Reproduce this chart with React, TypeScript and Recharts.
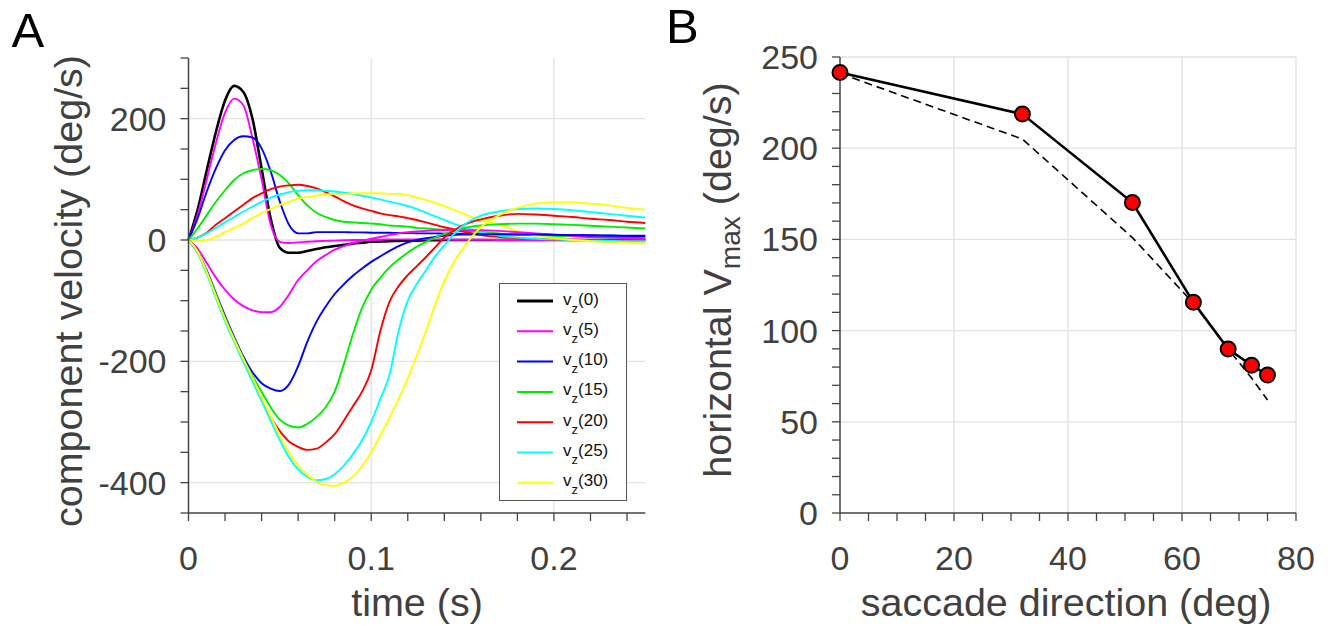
import {
  LineChart,
  Line,
  XAxis,
  YAxis,
  CartesianGrid,
  Legend,
  Label,
} from "recharts";

// ---- panel A: component velocity vs time ----
const time = [
  0, 0.005, 0.01, 0.015, 0.02, 0.025, 0.03, 0.035, 0.04, 0.045, 0.05, 0.055,
  0.06, 0.065, 0.07, 0.075, 0.08, 0.085, 0.09, 0.095, 0.1, 0.105, 0.11, 0.115,
  0.12, 0.125, 0.13, 0.135, 0.14, 0.145, 0.15, 0.155, 0.16, 0.17, 0.18, 0.19,
  0.2, 0.21, 0.22, 0.23, 0.24, 0.25,
];

// horizontal components
const h0 = [
  0, 50, 115, 178, 230, 254, 244, 200, 118, 35, -13, -21, -21, -18, -15, -12,
  -10, -8, -6, -4.5, -3, -2.5, -2, -1.5, -1, -1, -0.5, -0.5, 0, 0, 0, 0, 0, 0,
  0, 0, 0, 0, 0, 0, 0, 0,
];
const h5 = [
  0, 42, 100, 160, 210, 233, 222, 168, 100, 25, -3, -5, -4, -3, -2, -1.5, -1,
  -0.5, 0, 0, 0.5, 0.5, 1, 1, 1, 1, 1, 1, 1, 0.5, 0.5, 0.5, 0.5, 0, 0, 0, 0, 0,
  0, 0, 0, 0,
];
const h10 = [
  0, 36, 80, 118, 148, 165, 171, 169, 151, 113, 63, 25, 11, 11, 13, 13, 13, 13,
  12.5, 12.5, 12, 12, 12, 11.5, 11.5, 11, 11, 11, 10.5, 10.5, 10, 10, 10, 9.5,
  9, 9, 8.5, 8, 8, 7.5, 7, 7,
];
const h15 = [
  0, 19, 41, 63, 82, 99, 110, 115, 117, 115, 107, 93, 74, 57, 45, 38, 33, 30,
  29, 28, 27, 26, 24, 23, 22, 20, 19, 18, 17, 16, 15, 14, 13, 11, 9, 8, 7, 6, 5,
  4, 3.5, 3,
];
const h20 = [
  0, 4, 12, 25, 36, 47, 58, 69, 77, 84, 88, 90, 91, 89, 85, 79, 72, 64, 57, 52,
  48, 44, 41, 39, 36, 33, 29, 25, 21, 18, 14, 11, 8, 5, 3, 2, 1, 0.5, 0, 0, 0,
  0,
];
const h25 = [
  0, 4, 11, 20, 29, 38, 47, 55, 63, 70, 75, 79, 81, 82, 82, 81, 80, 78, 76, 73,
  70, 67, 63, 60, 56, 51, 45, 39, 33, 27, 22, 17, 13, 7, 4, 2, 1, 0, -1, -1.5,
  -2, -2,
];
const h30 = [
  0, -1, 0, 5, 13, 20, 27, 36, 44, 51, 58, 63, 68, 71, 73, 75, 76, 76, 77, 77,
  77, 77, 76, 76, 74, 70, 66, 61, 56, 50, 44, 38, 33, 25, 15, 7, 3, 0, -2, -3.5,
  -4.5, -5.5,
];

// vertical components
const v5 = [
  0, -14, -38, -62, -82, -98, -109, -116, -119, -119, -110, -90, -66, -50, -35,
  -25, -16, -10, -5, -1, 2, 5, 8, 11, 13, 14, 15, 16, 16, 16.5, 16.5, 16, 16,
  15, 13, 11, 9, 7, 5, 4, 3, 2,
];
const v10 = [
  0, -20, -50, -88, -125, -160, -192, -218, -236, -245, -249, -238, -208, -168,
  -135, -110, -89, -73, -59, -47, -36, -27, -18, -10, -4, 0, 3, 5, 7, 8, 9, 9,
  9.5, 9.5, 9, 9, 8.5, 8, 7.5, 7, 6.5, 6,
];
const v15 = [
  0, -19, -52, -90, -128, -163, -195, -224, -250, -276, -296, -306, -309, -303,
  -292, -276, -250, -205, -155, -112, -82, -62, -45, -32, -21, -11, -3, 4, 10,
  15, 19, 22, 24, 26, 27, 27, 26, 25, 23.5, 22, 20.5, 19,
];
const v20 = [
  0, -20, -54, -93, -131, -166, -199, -231, -262, -292, -315, -332, -341, -346,
  -344, -334, -320, -298, -274, -250, -215, -150, -102, -76, -58, -43, -28, -12,
  4, 15, 24, 30, 34, 40, 43, 42, 40, 38, 35, 33, 30, 28,
];
const v25 = [
  0, -21, -56, -96, -134, -168, -201, -233, -265, -298, -330, -358, -378, -390,
  -396, -394, -386, -372, -353, -330, -300, -262, -222, -150, -100, -72, -50,
  -27, -9, 9, 23, 33, 40, 47, 51, 52, 51, 49, 46, 43, 40, 37,
];
const v30 = [
  0, -19, -53, -92, -130, -164, -196, -227, -259, -291, -322, -350, -372, -387,
  -398, -404, -405, -400, -390, -373, -350, -322, -293, -262, -228, -190, -150,
  -106, -68, -38, -15, 5, 21, 41, 53, 60, 62, 62, 60, 57, 53, 50,
];

const vzLabels = ["0", "5", "10", "15", "20", "25", "30"];
const vzColors = [
  "#000000",
  "#ff00ff",
  "#0000ff",
  "#00ee00",
  "#ff0000",
  "#00ffff",
  "#ffff00",
];
const horizontal = [h0, h5, h10, h15, h20, h25, h30];
const vertical = [null, v5, v10, v15, v20, v25, v30];

const timeTicks = [
  0, 0.02, 0.04, 0.06, 0.08, 0.1, 0.12, 0.14, 0.16, 0.18, 0.2, 0.22, 0.24,
];
const timeLabels = [0, 0.1, 0.2];
const velTicks = [
  -450, -400, -350, -300, -250, -200, -150, -100, -50, 0, 50, 100, 150, 200,
  250, 300,
];
const velLabels = [-400, -200, 0, 200];

// ---- panel B: horizontal Vmax vs saccade direction ----
const direction = [0, 32, 51.3, 62, 68.1, 72.2, 75];
const measuredVmax = [241.5, 218.7, 170.2, 115.5, 89.9, 81, 75.6];
const modelVmax = [241, 205, 151, 115, 90, 74, 62];

const dirTicks = [
  0, 5, 10, 15, 20, 25, 30, 35, 40, 45, 50, 55, 60, 65, 70, 75, 80,
];
const dirLabels = [0, 20, 40, 60, 80];
const vmaxTicks = [
  0, 10, 20, 30, 40, 50, 60, 70, 80, 90, 100, 110, 120, 130, 140, 150, 160,
  170, 180, 190, 200, 210, 220, 230, 240, 250,
];
const vmaxLabels = [0, 50, 100, 150, 200, 250];

const FONT = "'Liberation Sans', Arial, Helvetica, sans-serif";
const TXT = "#404040";
const AXIS = "#444444";
const GRID = "#e2e2e2";
const LABEL_SIZE = 39.5;

const velocityRows = time.map((t, i) => {
  const row: Record<string, number> = { t };
  vzLabels.forEach((k, j) => {
    row["h" + k] = horizontal[j][i];
    const v = vertical[j];
    if (v) row["v" + k] = v[i];
  });
  return row;
});

const directionRows = direction.map((d, i) => ({
  dir: d,
  measured: measuredVmax[i],
  model: modelVmax[i],
}));

const only = (labels: number[]) => (v: number) =>
  labels.includes(v) ? String(v) : "";

const VzLegend = () => (
  <div
    style={{
      width: 128,
      height: 218,
      border: "1.2px solid #555",
      background: "#fff",
      boxSizing: "border-box",
    }}
  >
    <svg width={126} height={216} style={{ display: "block" }}>
      {vzLabels.map((k, i) => {
        const y = 17 + i * 30.3;
        return (
          <g key={k}>
            <line
              x1={17}
              x2={53}
              y1={y}
              y2={y}
              stroke={vzColors[i]}
              strokeWidth={i === 0 ? 2.8 : 2}
            />
            <text x={63} y={y + 3.5} fontSize={17} fill="#111" fontFamily={FONT}>
              v
              <tspan fontSize={13} dy={8}>
                z
              </tspan>
              <tspan dy={-8}>({k})</tspan>
            </text>
          </g>
        );
      })}
    </svg>
  </div>
);

const axisProps = {
  axisLine: { stroke: AXIS, strokeWidth: 1.5 },
  tickLine: { stroke: AXIS, strokeWidth: 1.3 },
  tickSize: 8,
  interval: 0 as const,
  tick: { fontSize: 34, fill: TXT, fontFamily: FONT },
};

function VelocityPanel() {
  return (
    <LineChart
      width={660}
      height={626}
      data={velocityRows}
      margin={{ top: 58, right: 14.7, bottom: 13, left: 18.5 }}
    >
      <CartesianGrid
        stroke={GRID}
        strokeWidth={1.3}
        horizontalValues={[-400, -200, 0, 200]}
        verticalValues={[0.1, 0.2]}
      />
      <XAxis
        dataKey="t"
        type="number"
        domain={[0, 0.25]}
        ticks={timeTicks}
        tickFormatter={only(timeLabels)}
        height={100}
        tickMargin={25}
        {...axisProps}
      >
        <Label
          content={() => (
            <text
              x={417}
              y={616}
              textAnchor="middle"
              fontSize={LABEL_SIZE}
              fill={TXT}
              fontFamily={FONT}
            >
              time (s)
            </text>
          )}
        />
      </XAxis>
      <YAxis
        type="number"
        domain={[-450, 300]}
        ticks={velTicks}
        tickFormatter={only(velLabels)}
        width={170}
        tickMargin={14}
        {...axisProps}
      >
        <Label
          content={() => (
            <text
              x={82}
              y={291}
              transform="rotate(-90 82 291)"
              textAnchor="middle"
              fontSize={LABEL_SIZE}
              fill={TXT}
              fontFamily={FONT}
            >
              component velocity (deg/s)
            </text>
          )}
        />
      </YAxis>
      {vzLabels.map((k, i) => (
        <Line
          key={"h" + k}
          dataKey={"h" + k}
          type="monotone"
          stroke={vzColors[i]}
          strokeWidth={i === 0 ? 2.6 : 1.9}
          dot={false}
          isAnimationActive={false}
        />
      ))}
      {vzLabels.slice(1).map((k, i) => (
        <Line
          key={"v" + k}
          dataKey={"v" + k}
          type="monotone"
          stroke={vzColors[i + 1]}
          strokeWidth={1.9}
          dot={false}
          isAnimationActive={false}
        />
      ))}
      <Legend
        layout="vertical"
        align="center"
        verticalAlign="middle"
        content={() => <VzLegend />}
        wrapperStyle={{ left: 498.5, top: 283, width: 128, height: 218 }}
      />
    </LineChart>
  );
}

function VmaxPanel() {
  return (
    <LineChart
      width={651}
      height={626}
      data={directionRows}
      margin={{ top: 57, right: 35, bottom: 13, left: 10 }}
    >
      <CartesianGrid
        stroke={GRID}
        strokeWidth={1.3}
        horizontalValues={[50, 100, 150, 200, 250]}
        verticalValues={[20, 40, 60, 80]}
      />
      <XAxis
        dataKey="dir"
        type="number"
        domain={[0, 80]}
        ticks={dirTicks}
        tickFormatter={only(dirLabels)}
        height={100}
        tickMargin={25}
        {...axisProps}
      >
        <Label
          content={() => (
            <text
              x={386}
              y={616}
              textAnchor="middle"
              fontSize={LABEL_SIZE}
              fill={TXT}
              fontFamily={FONT}
            >
              saccade direction (deg)
            </text>
          )}
        />
      </XAxis>
      <YAxis
        type="number"
        domain={[0, 250]}
        ticks={vmaxTicks}
        tickFormatter={only(vmaxLabels)}
        width={150}
        tickMargin={14}
        {...axisProps}
      >
        <Label
          content={() => (
            <text
              x={51}
              y={280}
              transform="rotate(-90 51 280)"
              textAnchor="middle"
              fontSize={LABEL_SIZE}
              fill={TXT}
              fontFamily={FONT}
            >
              horizontal V
              <tspan fontSize={28} dy={9}>
                max
              </tspan>
              <tspan dy={-9}> (deg/s)</tspan>
            </text>
          )}
        />
      </YAxis>
      <Line
        dataKey="model"
        type="linear"
        stroke="#000"
        strokeWidth={1.6}
        strokeDasharray="8 5"
        dot={false}
        isAnimationActive={false}
      />
      <Line
        dataKey="measured"
        type="linear"
        stroke="#000"
        strokeWidth={2.6}
        dot={{ r: 7.5, fill: "#ff0000", stroke: "#000", strokeWidth: 2 }}
        isAnimationActive={false}
      />
    </LineChart>
  );
}

export default function App() {
  return (
    <div
      style={{
        position: "absolute",
        left: 0,
        top: 0,
        width: 1331,
        height: 626,
        background: "#fff",
        fontFamily: FONT,
        overflow: "hidden",
      }}
    >
      <div style={{ position: "absolute", left: 0, top: 0 }}>
        <VelocityPanel />
      </div>
      <div style={{ position: "absolute", left: 680, top: 0 }}>
        <VmaxPanel />
      </div>
      <div
        style={{
          position: "absolute",
          left: 11.5,
          top: 5.5,
          fontSize: 49,
          lineHeight: 1,
          color: "#000",
        }}
      >
        A
      </div>
      <div
        style={{
          position: "absolute",
          left: 666,
          top: 1.5,
          fontSize: 49,
          lineHeight: 1,
          color: "#000",
        }}
      >
        B
      </div>
    </div>
  );
}
